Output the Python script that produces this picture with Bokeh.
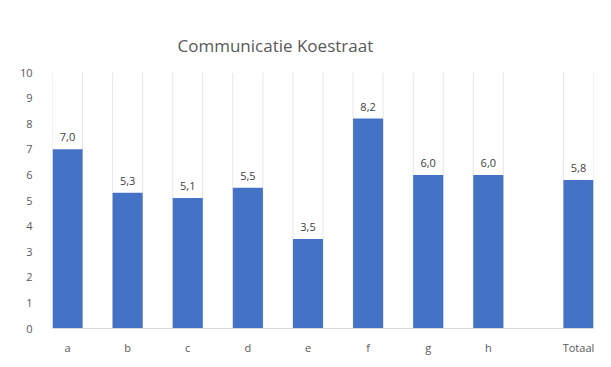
from bokeh.plotting import figure
from bokeh.models import ColumnDataSource, FactorRange, FixedTicker, Title
from bokeh.transform import dodge
from bokeh.embed import file_html
from bokeh.resources import INLINE

# ---- data ----
title_text = "Communicatie Koestraat"
groups = ["deel", "deel", "deel", "deel", "deel", "deel", "deel", "deel", "tot"]
categories = ["a", "b", "c", "d", "e", "f", "g", "h", "Totaal"]
scores = [7.0, 5.3, 5.1, 5.5, 3.5, 8.2, 6.0, 6.0, 5.8]
y_ticks = [0, 1, 2, 3, 4, 5, 6, 7, 8, 9, 10]

factors = list(zip(groups, categories))
labels = [f"{v:.1f}".replace(".", ",") for v in scores]

src = ColumnDataSource(dict(x=factors, top=scores, lab=labels))

x_range = FactorRange(*factors, group_padding=0.5, range_padding=-0.25,
                      range_padding_units="absolute")

p = figure(frame_width=541, frame_height=256, x_range=x_range,
           y_range=(min(y_ticks), max(y_ticks)),
           output_backend="svg", toolbar_location=None,
           min_border_left=52, min_border_right=2, min_border_top=72, min_border_bottom=20)

p.title = Title(text=title_text, align="left", offset=125, standoff=32,
                text_font="Open Sans", text_font_size="17px",
                text_font_style="normal", text_color="#595959")

# vertical light lines at bar edges
for off in (-0.25, 0.25):
    p.segment(x0=dodge("x", off, range=p.x_range), y0=min(y_ticks),
              x1=dodge("x", off, range=p.x_range), y1=max(y_ticks),
              source=src, line_color="#E6E6E6", line_width=1)

p.vbar(x="x", top="top", width=0.5, source=src, fill_color="#4472C4", line_color=None)

p.text(x="x", y="top", text="lab", source=src, text_align="center",
       text_baseline="bottom", y_offset=-8, text_font_size="11px",
       text_color="#404040", text_font={"value": "Open Sans"})

p.xgrid.grid_line_color = None
p.ygrid.grid_line_color = None
p.outline_line_color = None

xa = p.xaxis[0]
xa.axis_line_color = "#D9D9D9"
xa.major_tick_line_color = None
xa.minor_tick_line_color = None
xa.major_label_text_font_size = "11px"
xa.major_label_text_color = "#595959"
xa.major_label_text_font = "Open Sans"
xa.major_label_standoff = 5
xa.group_text_font_size = "0px"
xa.group_text_color = None
xa.separator_line_alpha = 0

ya = p.yaxis[0]
ya.ticker = FixedTicker(ticks=y_ticks)
ya.axis_line_color = None
ya.major_tick_line_color = None
ya.minor_tick_line_color = None
ya.major_label_text_font_size = "11px"
ya.major_label_text_color = "#595959"
ya.major_label_text_font = "Open Sans"
ya.major_label_standoff = 14

p.background_fill_color = "white"
p.border_fill_color = "white"

open("out.html", "w").write(file_html(p, INLINE))
